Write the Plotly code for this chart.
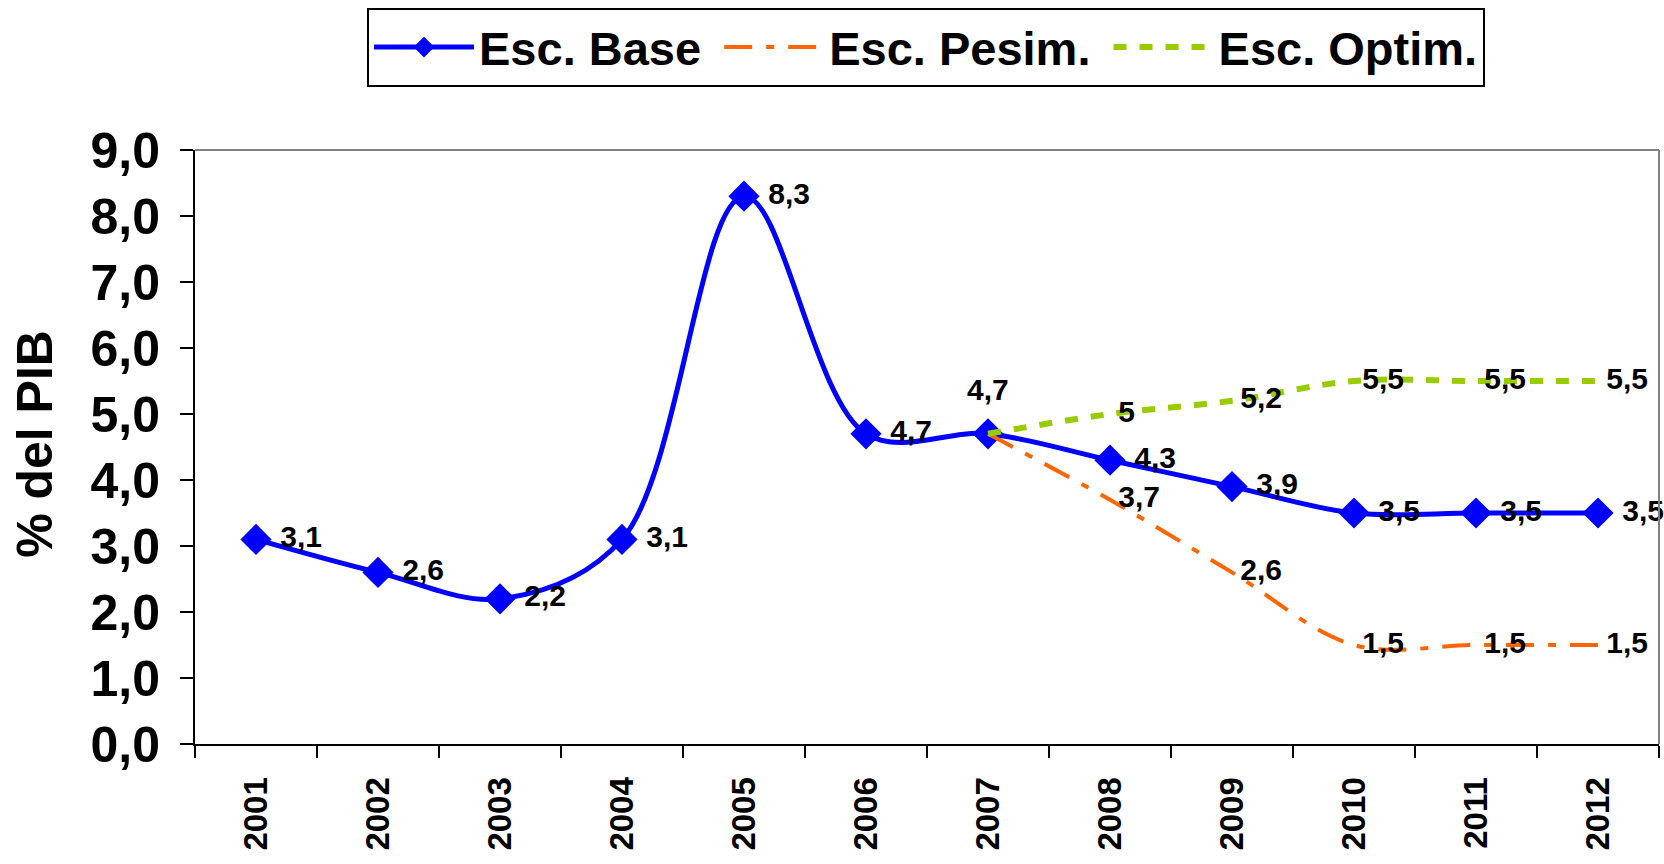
import plotly.graph_objects as go

years = ["2001", "2002", "2003", "2004", "2005", "2006", "2007", "2008", "2009", "2010", "2011", "2012"]
base = [3.1, 2.6, 2.2, 3.1, 8.3, 4.7, 4.7, 4.3, 3.9, 3.5, 3.5, 3.5]
pesim_years = ["2007", "2008", "2009", "2010", "2011", "2012"]
pesim = [4.7, 3.7, 2.6, 1.5, 1.5, 1.5]
optim_years = ["2007", "2008", "2009", "2010", "2011", "2012"]
optim = [4.7, 5.0, 5.2, 5.5, 5.5, 5.5]

NB = "\u00a0"

def fmt(v):
    s = ("%.1f" % v).replace(".", ",")
    return s[:-2] if s.endswith(",0") else s

FONT = "Liberation Sans, Arial, sans-serif"
lblfont = dict(family=FONT, size=30, color="black", weight="bold")

TOP_IDX = 6  # label drawn above the point
base_text = [NB + fmt(v) for v in base]
base_text[TOP_IDX] = ""

pes_text = [""] + [NB + fmt(v) for v in pesim[1:]]
opt_text = [""] + [NB + fmt(v) for v in optim[1:]]

fig = go.Figure()
fig.add_trace(go.Scatter(
    x=years, y=base, name="Esc. Base" + NB, mode="lines+markers+text",
    line=dict(color="#0000FF", width=5, shape="spline", smoothing=1.0),
    marker=dict(symbol="diamond", size=24, color="#0000FF"),
    text=base_text, textposition="middle right", textfont=lblfont, cliponaxis=False,
))
fig.add_trace(go.Scatter(
    x=pesim_years, y=pesim, name="Esc. Pesim." + NB, mode="lines+text",
    line=dict(color="#FF6600", width=4, shape="spline", smoothing=1.0, dash="28px,14px,8px,14px"),
    text=pes_text, textposition="middle right", textfont=lblfont, cliponaxis=False,
))
fig.add_trace(go.Scatter(
    x=optim_years, y=optim, name="Esc. Optim.", mode="lines+text",
    line=dict(color="#99CC00", width=6, shape="spline", smoothing=1.0, dash="13px,13px"),
    text=opt_text, textposition="middle right", textfont=lblfont, cliponaxis=False,
))

fig.update_layout(
    width=1664, height=864,
    margin=dict(l=195, r=5, t=150, b=120),
    paper_bgcolor="white", plot_bgcolor="white",
    separators=",.",
    showlegend=True,
    legend=dict(
        orientation="h", xref="container", yref="container",
        x=0.5565, y=0.945, xanchor="center", yanchor="middle",
        font=dict(family=FONT, size=47, color="black", weight="bold"),
        bordercolor="black", borderwidth=2, bgcolor="white",
        itemwidth=100,
    ),
    xaxis=dict(
        type="category", categoryorder="array", categoryarray=years,
        range=[-0.5, 11.5], tickson="boundaries", automargin=False,
        ticks="outside", ticklen=12, tickwidth=2, tickcolor="black",
        showline=True, linecolor="black", linewidth=2,
        showgrid=False, zeroline=False,
        tickangle=-90, ticklabelstandoff=18,
        tickfont=dict(family=FONT, size=33, color="black", weight="bold"),
    ),
    yaxis=dict(
        range=[0, 9], dtick=1, tickformat=".1f", automargin=False,
        ticks="outside", ticklen=13, tickwidth=2, tickcolor="black",
        showline=True, linecolor="black", linewidth=2,
        showgrid=False, zeroline=False,
        ticklabelstandoff=10,
        tickfont=dict(family=FONT, size=50, color="black", weight="bold"),
    ),
    shapes=[
        dict(type="line", xref="paper", yref="paper", x0=0, x1=1, y0=1, y1=1,
             line=dict(color="#808080", width=2)),
        dict(type="line", xref="paper", yref="paper", x0=1, x1=1, y0=0, y1=1,
             line=dict(color="#808080", width=2)),
    ],
    annotations=[
        dict(text="% del PIB", xref="paper", yref="paper", x=-0.1094, y=0.505,
             textangle=-90, showarrow=False, xanchor="center", yanchor="middle",
             font=dict(family=FONT, size=50, color="black", weight="bold")),
        dict(text=fmt(base[TOP_IDX]), x=TOP_IDX, y=base[TOP_IDX],
             xref="x", yref="y", showarrow=False, yshift=44,
             xanchor="center", yanchor="middle", font=lblfont),
    ],
)

fig.write_html("out.html", config={"displayModeBar": False},
               post_script="document.body.style.margin='0';")
